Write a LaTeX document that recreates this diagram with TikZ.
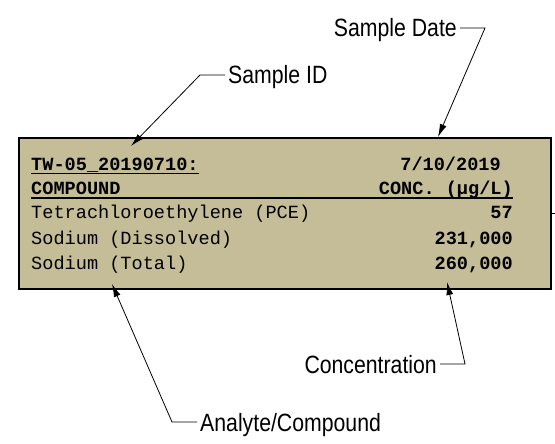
\documentclass[tikz,border=0pt]{standalone}
\usepackage{fontspec}
\setmonofont{Liberation Mono}
\newfontfamily\calloutfont[FakeStretch=0.85]{Liberation Sans}
\usetikzlibrary{arrows.meta}
\definecolor{sandtan}{RGB}{196,189,151}
\tikzset{data box/.style={draw,fill=sandtan,line width=2.2bp,inner sep=0pt,anchor=north west},
	cell/.style={inner sep=0pt,font=\ttfamily\fontsize{18.6bp}{20bp}\selectfont},
	callout/.style={inner xsep=3bp,inner ysep=0pt,text height=18bp,text depth=0pt,
		font=\calloutfont\fontsize{25bp}{28bp}\selectfont},
	leader/.style={line width=0.8bp,-{Latex[length=13bp,width=7bp]}},
}

\begin{document}
\begin{tikzpicture}[x=1bp,y=-1bp]
	\useasboundingbox (0,0) rectangle (555,444);
	\node[data box,minimum width=532bp,minimum height=151bp] (box) at (18,137) {};
	
	% sample header
	\node[cell,anchor=base west] (id) at (31,171) {\bfseries TW-05\_20190710:};
	\node[cell,anchor=base east] (date) at (501,171) {\bfseries 7/10/2019};
	\node[cell,anchor=base west] (cmp) at (31,195) {\bfseries COMPOUND};
	\node[cell,anchor=base east] (unit) at (513,195) {\bfseries CONC. (µg/L)};
	\draw[line width=1.2bp] ([yshift=-2.5bp]id.base west) -- ([yshift=-2.5bp]id.base east);
	\draw[line width=1.2bp] ([yshift=-3bp]cmp.base west) -- ([yshift=-3bp]unit.base east);
	
	% results
	\node[cell,anchor=base west] (r1) at (31,219) {Tetrachloroethylene (PCE)};
	\node[cell,anchor=base east] (v1) at (513,219) {\bfseries 57};
	\node[cell,anchor=base west] (r2) at (31,245) {Sodium (Dissolved)};
	\node[cell,anchor=base east] (v2) at (513,245) {\bfseries 231,000};
	\node[cell,anchor=base west] (r3) at (31,270) {Sodium (Total)};
	\node[cell,anchor=base east] (v3) at (513,270) {\bfseries 260,000};
	
	\coordinate (stub) at (555,214);
	\draw[line width=1bp] (box.east |- stub) -- (stub);
	
	% callouts
	\node[callout,anchor=west] (sid) at (225,75) {Sample ID};
	\node[callout,anchor=east] (sdate) at (460,28) {Sample Date};
	\node[callout,anchor=east] (conc) at (440,364) {Concentration};
	\node[callout,anchor=west] (anal) at (197,422) {Analyte/Compound};
	
	\coordinate (idtip) at (131,146);
	\coordinate (datetip) at (438,137);
	\coordinate (conctip) at (447,282);
	\coordinate (cmptip) at (112,284);
	
	\draw[leader] (sid.west) -- ++(-25,0) -- (idtip);
	\draw[leader] (sdate.east) -- ++(25,0) -- (datetip);
	\draw[leader] (conc.east) -- ++(25,0) -- (conctip);
	\draw[leader] (anal.west) -- ++(-25,0) -- (cmptip);
\end{tikzpicture}
\end{document}
